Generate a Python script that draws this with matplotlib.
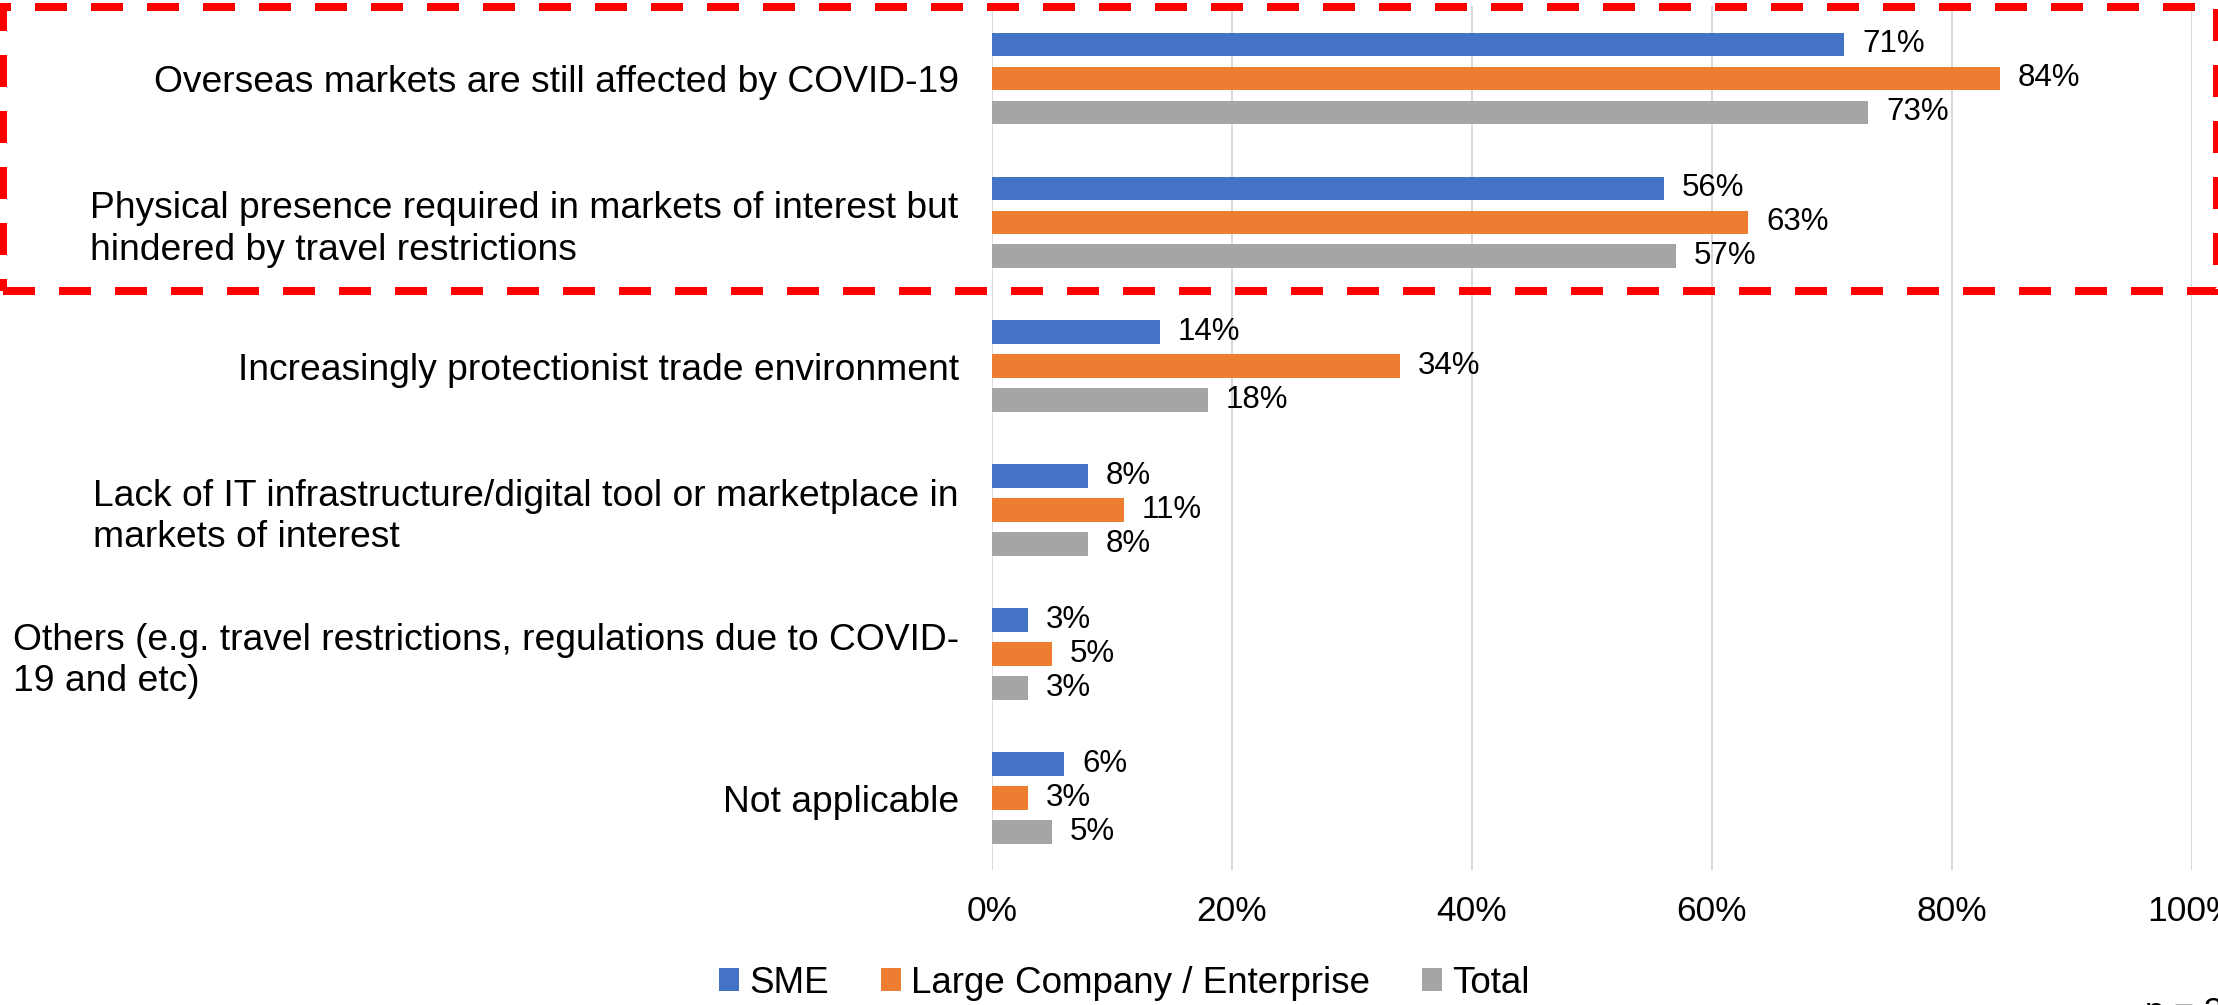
import numpy as np
import matplotlib
matplotlib.use("Agg")
import matplotlib.pyplot as plt
from matplotlib.patches import Rectangle, Patch

plt.rcParams['font.family'] = ['Liberation Sans', 'DejaVu Sans']

categories = [
    "Overseas markets are still affected by COVID-19",
    "Physical presence required in markets of interest but\nhindered by travel restrictions",
    "Increasingly protectionist trade environment",
    "Lack of IT infrastructure/digital tool or marketplace in\nmarkets of interest",
    "Others (e.g. travel restrictions, regulations due to COVID-\n19 and etc)",
    "Not applicable",
]
sme = [71, 56, 14, 8, 3, 6]
large = [84, 63, 34, 11, 5, 3]
total = [73, 57, 18, 8, 3, 5]
series_names = ["SME", "Large Company / Enterprise", "Total"]
colors = ["#4472C4", "#ED7D31", "#A5A5A5"]
xticks = [0, 20, 40, 60, 80, 100]

W, H = 2218, 1005
fig = plt.figure(figsize=(W / 100, H / 100), dpi=100)
ax = fig.add_axes([992 / W, 1 - 870 / H, 1200 / W, 863.5 / H])

y = np.arange(len(categories))
bar_h = 0.165
step = 0.236
for k, (vals, col) in enumerate(zip([sme, large, total], colors)):
    pos = y + (k - 1) * step
    ax.barh(pos, vals, height=bar_h, color=col, zorder=3)
    for p, v in zip(pos, vals):
        ax.annotate("{}%".format(v), (v, p), xytext=(13, 0), textcoords="offset points",
                    ha="left", va="center", fontsize=22.5, color="black")

ax.set_xlim(0, 100)
ax.set_ylim(len(categories) - 0.5, -0.5)
ax.set_xticks(xticks)
ax.set_xticklabels(["{}%".format(t) for t in xticks], fontsize=25.5)
ax.set_yticks(y)
ax.set_yticklabels(categories, fontsize=26.8, linespacing=1.23, multialignment="left")
ax.tick_params(axis="x", length=0, pad=18)
ax.tick_params(axis="y", length=0, pad=24)
for s in ax.spines.values():
    s.set_visible(False)
ax.grid(axis="x", color="#D9D9D9", linewidth=1.4, zorder=0)
ax.set_axisbelow(True)

handles = [Patch(facecolor=c, label=n) for c, n in zip(colors, series_names)]
fig.legend(handles=handles, loc="center", bbox_to_anchor=(1124.5 / W, 1 - 983 / H), ncol=3,
           frameon=False, fontsize=26.5, handlelength=0.55, handleheight=0.55,
           handletextpad=0.28, columnspacing=1.4, borderpad=0, borderaxespad=0)

# highlight box around the first two groups
box = Rectangle((3 / W, 1 - 291 / H), 2214 / W, 284 / H, transform=fig.transFigure,
                fill=False, edgecolor="#FF0000", linewidth=5.76, linestyle=(0, (4, 3)),
                capstyle="butt", clip_on=False, zorder=10)
fig.patches.append(box)

fig.text(2145 / W, 1 - 1022 / H, "n = 3", fontsize=25, ha="left", va="baseline")

fig.savefig("out.png", dpi=100)
